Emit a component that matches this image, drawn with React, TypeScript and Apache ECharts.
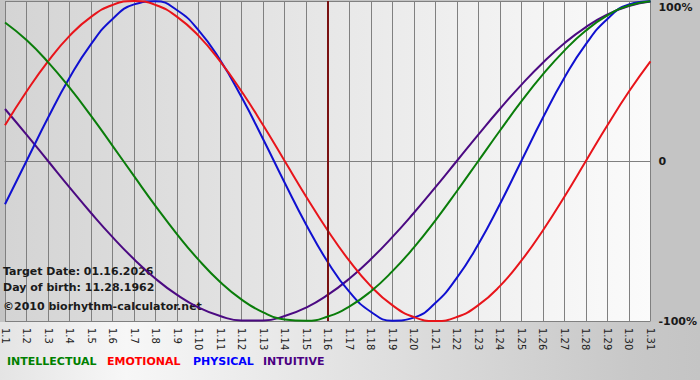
import React, { useEffect, useRef } from "react";
import * as echarts from "echarts";

const days = [
  "1.1", "1.2", "1.3", "1.4", "1.5", "1.6", "1.7", "1.8", "1.9", "1.10",
  "1.11", "1.12", "1.13", "1.14", "1.15", "1.16", "1.17", "1.18", "1.19", "1.20",
  "1.21", "1.22", "1.23", "1.24", "1.25", "1.26", "1.27", "1.28", "1.29", "1.30", "1.31",
];

const intellectual = [
  86.6, 75.6, 61.8, 45.8, 28.2, 9.5, -9.5, -28.2, -45.8, -61.8,
  -75.6, -86.6, -94.6, -99.0, -99.9, -97.2, -91.0, -81.5, -69.0, -54.1,
  -37.2, -18.9, 0, 18.9, 37.2, 54.1, 69.0, 81.5, 91.0, 97.2, 99.9,
];
const emotional = [
  22.3, 43.4, 62.3, 78.2, 90.1, 97.5, 100, 97.5, 90.1, 78.2,
  62.3, 43.4, 22.3, 0, -22.3, -43.4, -62.3, -78.2, -90.1, -97.5,
  -100, -97.5, -90.1, -78.2, -62.3, -43.4, -22.3, 0, 22.3, 43.4, 62.3,
];
const physical = [
  -27.0, 0, 27.0, 52.0, 73.1, 88.8, 97.9, 99.8, 94.2, 81.7,
  63.1, 39.8, 13.6, -13.6, -39.8, -63.1, -81.7, -94.2, -99.8, -97.9,
  -88.8, -73.1, -52.0, -27.0, 0, 27.0, 52.0, 73.1, 88.8, 97.9, 99.8,
];
const intuitive = [
  32.5, 16.5, 0, -16.5, -32.5, -47.6, -61.4, -73.6, -83.7, -91.6,
  -96.9, -99.7, -99.7, -96.9, -91.6, -83.7, -73.6, -61.4, -47.6, -32.5,
  -16.5, 0, 16.5, 32.5, 47.6, 61.4, 73.6, 83.7, 91.6, 96.9, 99.7,
];

const targetDay = "1.16";
const infoLines = ["Target Date: 01.16.2026", "Day of birth: 11.28.1962", "\u00A92010 biorhythm-calculator.net"];
const legendNames = ["INTELLECTUAL", "EMOTIONAL", "PHYSICAL", "INTUITIVE"];

const COLORS = {
  intellectual: "#0a7d0a",
  emotional: "#e8141a",
  physical: "#1010d0",
  intuitive: "#4b0a82",
};
const LEGEND_COLORS = ["#008000", "#ff0000", "#0000ff", "#4b0082"];
const LEGEND_X = [7, 107, 193, 263];
const INFO_Y = [271, 287, 306];
const FONT = "'DejaVu Sans', Verdana, sans-serif";

export default function App() {
  const ref = useRef<HTMLDivElement>(null);

  useEffect(() => {
    document.body.style.margin = "0";
    if (!ref.current) return;
    const chart = echarts.init(ref.current, null, { renderer: "svg" });

    const lineSeries = (name: string, data: number[], color: string, z: number) => ({
      name,
      type: "line",
      data,
      smooth: 0.5,
      smoothConstraint: false,
      symbol: "none",
      z,
      lineStyle: { color, width: 2 },
      itemStyle: { color },
    });

    const graphics: any[] = [
      {
        type: "rect",
        z: -100,
        shape: { x: 0, y: 322, width: 700, height: 58 },
        style: {
          fill: new echarts.graphic.LinearGradient(0, 0, 1, 0, [
            { offset: 0, color: "#e4e4e4" },
            { offset: 0.18, color: "#f7f7f7" },
            { offset: 0.5, color: "#e2e2e2" },
            { offset: 0.9, color: "#c8c8c8" },
            { offset: 1, color: "#c4c4c4" },
          ]),
        },
      },
    ];
    infoLines.forEach((t, i) => {
      graphics.push({
        type: "text",
        z: 1,
        x: 3,
        y: INFO_Y[i],
        style: {
          text: t,
          fill: "#1a1a1a",
          font: `bold 11px ${FONT}`,
          textVerticalAlign: "middle",
        },
      });
    });
    legendNames.forEach((t, i) => {
      graphics.push({
        type: "text",
        z: 10,
        x: LEGEND_X[i],
        y: 361,
        style: {
          text: t,
          fill: LEGEND_COLORS[i],
          font: `bold 11px ${FONT}`,
          textVerticalAlign: "middle",
        },
      });
    });

    chart.setOption({
      animation: false,
      backgroundColor: "#c4c4c4",
      grid: {
        left: 1,
        right: 49,
        top: 1,
        bottom: 59,
        show: true,
        borderWidth: 0,
        backgroundColor: new echarts.graphic.LinearGradient(0, 0, 1, 0, [
          { offset: 0, color: "#d4d4d4" },
          { offset: 1, color: "#fbfbfb" },
        ]),
      },
      xAxis: {
        type: "category",
        data: days,
        boundaryGap: false,
        axisLine: { show: true, lineStyle: { color: "#808080", width: 1 } },
        axisTick: { show: true, length: 6, lineStyle: { color: "#808080" } },
        splitLine: { show: true, lineStyle: { color: "#808080", width: 1 } },
        axisLabel: {
          interval: 0,
          rotate: -90,
          margin: 7,
          color: "#222",
          fontSize: 10,
          fontFamily: FONT,
        },
      },
      yAxis: {
        type: "value",
        position: "right",
        min: -100,
        max: 100,
        interval: 100,
        axisLine: { show: false },
        axisTick: { show: false },
        splitLine: { show: true, lineStyle: { color: "#808080", width: 1 } },
        axisLabel: {
          margin: 8,
          color: "#1a1a1a",
          fontSize: 11,
          fontWeight: "bold",
          fontFamily: FONT,
          formatter: (v: number) => (v === 100 ? "{t|100%}" : v === 0 ? "0" : `${v}%`),
          rich: {
            t: {
              padding: [12, 0, 0, 0],
              color: "#1a1a1a",
              fontSize: 11,
              fontWeight: "bold",
              fontFamily: FONT,
            },
          },
        },
      },
      graphic: graphics,
      series: [
        lineSeries("INTUITIVE", intuitive, COLORS.intuitive, 2),
        lineSeries("PHYSICAL", physical, COLORS.physical, 3),
        lineSeries("EMOTIONAL", emotional, COLORS.emotional, 4),
        {
          ...lineSeries("INTELLECTUAL", intellectual, COLORS.intellectual, 5),
          markLine: {
            silent: true,
            symbol: ["none", "none"],
            label: { show: false },
            lineStyle: { color: "#7a1212", width: 2, type: "solid" },
            data: [{ xAxis: targetDay }],
          },
        },
      ],
    });

    return () => chart.dispose();
  }, []);

  return <div ref={ref} style={{ width: 700, height: 380 }} />;
}
